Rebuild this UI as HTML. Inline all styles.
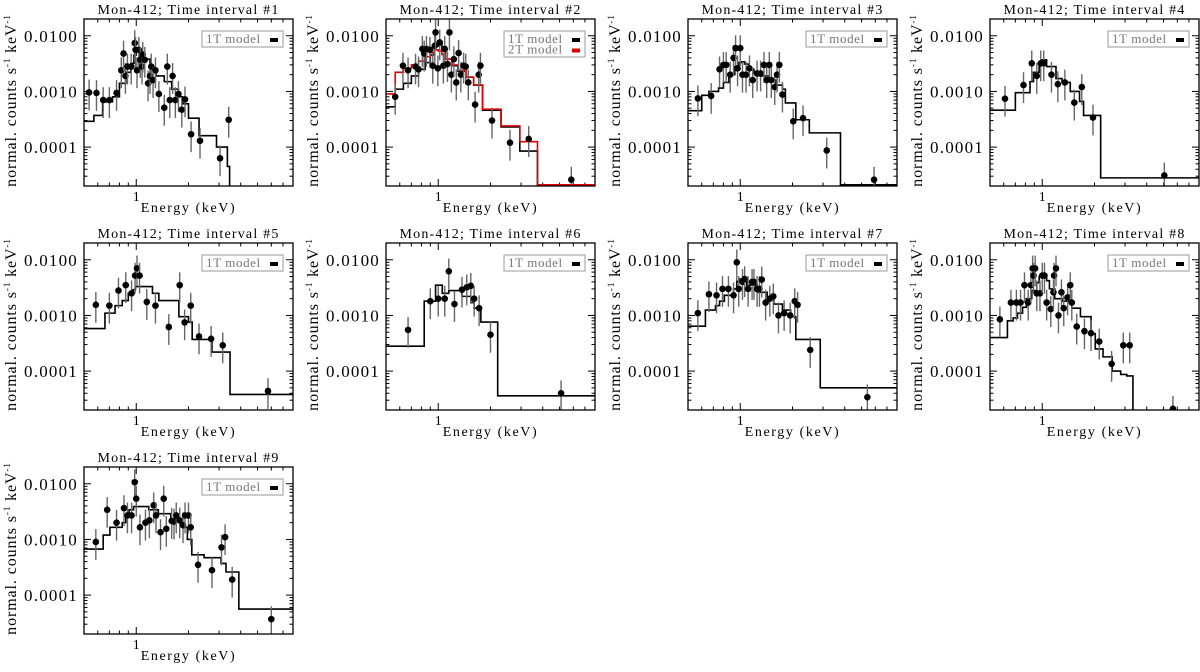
<!DOCTYPE html>
<html><head><meta charset="utf-8">
<style>
html,body{margin:0;padding:0;background:#fff;}
svg{display:block;}
text{font-family:"Liberation Serif",serif;}
</style></head>
<body>
<svg id="fig" width="1200" height="672" viewBox="0 0 1200 672"></svg>
<script>
// ---- data (energy keV, flux counts/s/keV) ----
const p1E=[0.535,0.59,0.645,0.70,0.77,0.82,0.845,0.866,0.89,0.935,0.98,0.99,1.01,1.035,1.055,1.08,1.09,1.12,1.17,1.2,1.22,1.25,1.29,1.35,1.45,1.51,1.56,1.62,1.68,1.75,1.83,1.91,2.07,2.33,3.04,3.41];
const p1F=[9.6e-4,9.4e-4,7e-4,7e-4,9.4e-4,2.4e-3,4.8e-3,1.9e-3,2.8e-3,2.8e-3,7.4e-3,5.6e-3,2.4e-3,5.6e-3,3.7e-3,2.8e-3,4.6e-3,3.7e-3,1.4e-3,1.9e-3,2.8e-3,1.6e-3,2.4e-3,9e-4,5.1e-4,2.8e-3,7e-4,1.9e-3,7e-4,9e-4,4.7e-4,7.2e-4,1.7e-4,1.3e-4,6.3e-5,3.1e-4];
const p1ME=[0.5,0.57,0.64,0.73,0.8,0.87,0.93,0.97,1.0,1.05,1.1,1.2,1.3,1.45,1.6,1.75,1.85,2.0,2.3,2.9,3.35,3.45,8];
const p1MV=[2.9e-4,3.7e-4,6.5e-4,8e-4,1.4e-3,2.2e-3,3.2e-3,4.5e-3,5.2e-3,4.8e-3,3.8e-3,2.6e-3,1.9e-3,1.5e-3,1.1e-3,8e-4,6e-4,3.3e-4,1.6e-4,1e-4,4.5e-5,1e-7];

const p2E=[0.565,0.626,0.67,0.74,0.77,0.81,0.83,0.855,0.895,0.93,0.955,0.965,0.995,1.02,1.07,1.09,1.13,1.16,1.19,1.23,1.27,1.31,1.35,1.4,1.44,1.49,1.63,1.71,1.75,2.04,2.59,3.32,5.84];
const p2F=[8e-4,2.9e-3,2.4e-3,2.8e-3,2.5e-3,5.8e-3,4.8e-3,5.8e-3,5.6e-3,2.9e-3,6.6e-3,1.15e-2,2.6e-3,7.6e-3,2.9e-3,5.8e-3,3.1e-3,1.15e-2,2e-3,3.8e-3,1.45e-3,4.9e-3,2e-3,2.9e-3,2.8e-3,1.45e-3,5.8e-4,2e-3,2.9e-3,3e-4,1.2e-4,1.4e-4,2.6e-5];
const p2ME=[0.5,0.565,0.63,0.7,0.77,0.84,0.9,0.95,1.0,1.05,1.1,1.2,1.3,1.45,1.6,1.8,2.3,2.95,3.73,8];
const p2MV=[5.3e-4,1.1e-3,1.4e-3,1.9e-3,2.5e-3,3.3e-3,4.5e-3,6.5e-3,7.5e-3,5.5e-3,3.8e-3,2.9e-3,2.3e-3,1.8e-3,1.3e-3,4.6e-4,2.3e-4,8.5e-5,2.1e-5];
const p2M2V=[9e-4,2.2e-3,2.6e-3,3e-3,3.5e-3,4.2e-3,5e-3,5.6e-3,5.3e-3,4.6e-3,3.8e-3,3e-3,2.4e-3,1.8e-3,1.3e-3,4.8e-4,2.4e-4,1.25e-4,2.1e-5];

const p3E=[0.57,0.68,0.76,0.8,0.83,0.875,0.915,0.94,0.965,1.0,1.03,1.08,1.13,1.18,1.25,1.31,1.37,1.42,1.47,1.51,1.58,1.63,1.68,1.75,2.02,2.3,3.15,5.9];
const p3F=[7.5e-4,8.3e-4,2.5e-3,3e-3,3e-3,2e-3,4e-3,6e-3,2.6e-3,6e-3,2e-3,2e-3,2.6e-3,1.6e-3,2.1e-3,2.1e-3,3e-3,1.6e-3,3e-3,1.6e-3,1.2e-3,2e-3,3e-3,8.8e-4,2.9e-4,3.3e-4,8.7e-5,2.6e-5];
const p3ME=[0.5,0.6,0.66,0.75,0.8,0.86,0.93,0.98,1.02,1.06,1.12,1.2,1.3,1.45,1.6,1.75,1.82,2.09,2.5,3.78,8];
const p3MV=[4.5e-4,8.5e-4,1e-3,1.15e-3,1.45e-3,2e-3,2.8e-3,3.3e-3,3.4e-3,3.1e-3,2.5e-3,2.1e-3,1.9e-3,1.6e-3,1.3e-3,1.1e-3,6.2e-4,3.1e-4,1.8e-4,2.1e-5];

const p4E=[0.61,0.78,0.87,0.93,0.98,1.02,1.13,1.23,1.35,1.53,1.69,1.96,5.05];
const p4F=[7.4e-4,1.3e-3,3.2e-3,1.9e-3,3.2e-3,3.2e-3,2e-3,1.35e-3,1.45e-3,6.3e-4,1.2e-3,3.4e-4,3.1e-5];
const p4ME=[0.5,0.70,0.85,0.89,0.96,1.0,1.06,1.2,1.3,1.45,1.64,1.73,2.17,8];
const p4MV=[4.6e-4,9.5e-4,1.5e-3,2.2e-3,3.2e-3,3.7e-3,2.8e-3,1.7e-3,1.45e-3,1e-3,6.6e-4,3.7e-4,2.8e-5];

const p5E=[0.585,0.7,0.79,0.87,0.94,0.985,1.01,1.045,1.15,1.29,1.54,1.78,1.9,2.06,2.3,2.7,3.15,5.74];
const p5F=[1.55e-3,1.5e-3,2.8e-3,3.5e-3,2.5e-3,5.2e-3,7e-3,5.2e-3,1.75e-3,1.5e-3,6.2e-4,3.5e-3,7.5e-4,1.5e-3,4.2e-4,3.8e-4,2.9e-4,4.4e-5];
const p5ME=[0.5,0.66,0.755,0.83,0.9,0.96,0.99,1.24,1.35,1.76,2.0,2.1,2.73,3.47,8];
const p5MV=[5.8e-4,1.1e-3,1.5e-3,1.85e-3,2.5e-3,2.9e-3,3.3e-3,2.5e-3,1.85e-3,9.5e-4,7.6e-4,3.7e-4,2.2e-4,3.8e-5];

const p6E=[0.67,0.9,1.0,1.09,1.15,1.24,1.37,1.46,1.54,1.61,1.72,2.0,5.1];
const p6F=[5.5e-4,1.8e-3,2e-3,2e-3,6.2e-3,1.6e-3,2.9e-3,3.2e-3,3.4e-3,2e-3,1.35e-3,4.5e-4,4e-5];
const p6ME=[0.5,0.83,0.965,1.055,1.15,1.37,1.54,1.61,1.76,2.2,8];
const p6MV=[2.8e-4,1.8e-3,3.5e-3,2.5e-3,2.8e-3,2.2e-3,1.7e-3,1.35e-3,7.6e-4,3.6e-5];

const p7E=[0.57,0.66,0.73,0.79,0.855,0.915,0.955,0.98,1.03,1.06,1.11,1.17,1.2,1.25,1.29,1.33,1.4,1.48,1.55,1.66,1.79,1.94,2.06,2.14,2.53,5.4];
const p7F=[1.1e-3,2.4e-3,2.3e-3,3e-3,3e-3,2.3e-3,9e-3,3e-3,4e-3,4.5e-3,3e-3,4e-3,4e-3,3e-3,3e-3,4.4e-3,1.7e-3,2e-3,2.2e-3,1e-3,1.1e-3,1e-3,1.8e-3,1.55e-3,2.4e-4,3.4e-5];
const p7ME=[0.5,0.63,0.72,0.76,0.81,0.915,0.955,1.0,1.09,1.25,1.43,1.56,1.75,1.95,2.09,2.89,8];
const p7MV=[6.4e-4,1.25e-3,1.5e-3,1.8e-3,2.3e-3,3e-3,4.1e-3,4.5e-3,3.5e-3,2.6e-3,2.1e-3,1.6e-3,1.25e-3,9.5e-4,3.7e-4,5e-5];

const p8E=[0.57,0.66,0.71,0.75,0.79,0.83,0.86,0.88,0.89,0.91,0.93,0.97,1.0,1.03,1.06,1.12,1.16,1.17,1.2,1.24,1.29,1.33,1.4,1.45,1.48,1.58,1.75,1.91,2.13,2.51,2.93,3.19,5.66];
const p8F=[8.5e-4,1.7e-3,1.7e-3,1.7e-3,3.5e-3,1.7e-3,3.5e-3,7e-3,5.2e-3,7e-3,2.5e-3,2.5e-3,5.2e-3,5.2e-3,1.7e-3,1.3e-3,2.6e-3,5.2e-3,7e-3,1e-3,2.6e-3,1.35e-3,2.1e-3,3.5e-3,1.7e-3,6.3e-4,5.2e-4,4.8e-4,3.4e-4,1.35e-4,2.9e-4,2.9e-4,2.1e-5];
const p8ME=[0.5,0.63,0.68,0.72,0.77,0.81,0.87,0.93,0.96,1.06,1.1,1.18,1.3,1.48,1.66,1.91,2.02,2.24,2.53,2.83,3.07,3.33,8];
const p8MV=[4e-4,8e-4,9e-4,1.1e-3,1.4e-3,2e-3,2.8e-3,3.9e-3,5e-3,4.2e-3,3e-3,2e-3,1.8e-3,1.35e-3,9.5e-4,4.7e-4,2.5e-4,1.8e-4,1e-4,8.7e-5,8.2e-5,1e-7];

const p9E=[0.585,0.68,0.77,0.85,0.89,0.94,0.98,1.0,1.05,1.13,1.19,1.26,1.3,1.38,1.44,1.49,1.6,1.65,1.7,1.78,1.86,1.91,2.0,2.06,2.27,2.73,3.1,3.25,3.57,6.0];
const p9F=[9e-4,3.4e-3,2e-3,3.65e-3,2.7e-3,2.7e-3,1.07e-2,5.4e-3,1.65e-3,2e-3,2.2e-3,4.1e-3,2.7e-3,1.35e-3,5.4e-3,1.55e-3,2.15e-3,2.1e-3,2.7e-3,2.2e-3,1.8e-3,2.7e-3,2.7e-3,1.65e-3,3.5e-4,2.8e-4,7.2e-4,1.1e-3,1.9e-4,3.7e-5];
const p9ME=[0.5,0.645,0.705,0.83,0.87,0.91,0.965,1.18,1.34,1.58,1.84,1.97,2.09,2.46,3.08,3.29,3.9,8];
const p9MV=[6.7e-4,1.2e-3,1.65e-3,2e-3,2.6e-3,3.4e-3,3.9e-3,3.4e-3,2.9e-3,2.2e-3,1.65e-3,1e-3,5.3e-4,4.7e-4,3.7e-4,2.6e-4,5.6e-5];

const yTickVals=[1e-4,1e-3,1e-2];
const yTickLabels=["0.0001","0.0010","0.0100"];
const xTickVals=[1];
const xTickLabels=["1"];

const panels=[
 {n:1,E:p1E,F:p1F,ME:p1ME,MV:p1MV},
 {n:2,E:p2E,F:p2F,ME:p2ME,MV:p2MV,M2V:p2M2V},
 {n:3,E:p3E,F:p3F,ME:p3ME,MV:p3MV},
 {n:4,E:p4E,F:p4F,ME:p4ME,MV:p4MV},
 {n:5,E:p5E,F:p5F,ME:p5ME,MV:p5MV},
 {n:6,E:p6E,F:p6F,ME:p6ME,MV:p6MV},
 {n:7,E:p7E,F:p7F,ME:p7ME,MV:p7MV},
 {n:8,E:p8E,F:p8F,ME:p8ME,MV:p8MV},
 {n:9,E:p9E,F:p9F,ME:p9ME,MV:p9MV}
];

const NS="http://www.w3.org/2000/svg";
const svg=document.getElementById('fig');
const XMIN=0.5,XMAX=8,YMIN=2e-5,YMAX=2e-2,W=209,H=167;
function mk(tag,attrs,parent){const e=document.createElementNS(NS,tag);for(const k in attrs)e.setAttribute(k,attrs[k]);parent.appendChild(e);return e;}

panels.forEach((p,i)=>{
  const c=i%4,r=Math.floor(i/4);
  const L=84+302*c,T=19+224*r;
  const sx=v=>L+(Math.log10(v)-Math.log10(XMIN))/(Math.log10(XMAX)-Math.log10(XMIN))*W;
  const sy=v=>T+H-(Math.log10(v)-Math.log10(YMIN))/(Math.log10(YMAX)-Math.log10(YMIN))*H;
  const g=mk('g',{},svg);
  
  
  const cp=mk('clipPath',{id:'clip'+p.n},g);
  mk('rect',{x:L,y:T,width:W,height:H},cp);
  const t=mk('text',{x:L+W/2,y:T-5,'text-anchor':'middle','font-size':14,'letter-spacing':1.2},g);
  t.textContent='Mon-412; Time interval #'+p.n;
  
  
  const yl=mk('text',{x:0,y:0,'text-anchor':'middle','font-size':16,'letter-spacing':0.9,transform:`translate(${L-68},${T+H/2-2}) rotate(-90)`},g);
  yl.innerHTML='normal. counts s<tspan font-size="9" dy="-6">-1</tspan><tspan dy="6"> keV</tspan><tspan font-size="9" dy="-6">-1</tspan>';
  
  
  const xl=mk('text',{x:L+W/2,y:T+H+26,'text-anchor':'middle','font-size':14,'letter-spacing':1.6},g);
  xl.textContent='Energy (keV)';
  
  
  const tk=mk('g',{stroke:'#000','stroke-width':1},g);
  
  
  for(let d=-5;d<=-2;d++){for(let m=1;m<=9;m++){const v=m*Math.pow(10,d);if(v<YMIN||v>YMAX)continue;const y=sy(v);const len=m===1?7:3.5;
    mk('line',{x1:L,x2:L+len,y1:y,y2:y},tk);mk('line',{x1:L+W-len,x2:L+W,y1:y,y2:y},tk);}}
  for(let d=-1;d<=0;d++){for(let m=1;m<=9;m++){const v=m*Math.pow(10,d);if(v<XMIN||v>XMAX)continue;const x=sx(v);const len=v===1?7:3.5;
    mk('line',{x1:x,x2:x,y1:T+H,y2:T+H-len},tk);mk('line',{x1:x,x2:x,y1:T,y2:T+len},tk);}}
  yTickVals.forEach((v,k)=>{const e=mk('text',{x:L-6,y:sy(v)+6,'text-anchor':'end','font-size':17,'letter-spacing':1.2},g);e.textContent=yTickLabels[k];
    
    });
  xTickVals.forEach((v,k)=>{const e=mk('text',{x:sx(v),y:T+H+15,'text-anchor':'middle','font-size':14},g);e.textContent=xTickLabels[k];
    
    });
  const pg=mk('g',{'clip-path':`url(#clip${p.n})`},g);
  function step(E,V,color,name){let d='';for(let k=0;k<V.length;k++){const x0=sx(E[k]),x1=sx(E[k+1]),y=sy(V[k]);d+=(k===0?'M':'L')+x0+','+y+'L'+x1+','+y;}
    const e=mk('path',{d:d,fill:'none',stroke:color,'stroke-width':1.6},pg);
    
    }
  step(p.ME,p.MV,'#000','model-1t');
  if(p.M2V)step(p.ME,p.M2V,'#e00000','model-2t');
  p.E.forEach((e,k)=>{const x=sx(e),y=sy(p.F[k]);
    const eb=mk('line',{x1:x,x2:x,y1:sy(p.F[k]*1.7),y2:sy(p.F[k]/2.1),stroke:'#666','stroke-width':1.4},pg);
    
    
    const dot=mk('circle',{cx:x,cy:y,r:3.3,fill:'#000'},pg);
    
    });
  const fr=mk('rect',{x:L,y:T,width:W,height:H,fill:'none',stroke:'#000','stroke-width':1.3},g);
  
  
  const n=p.M2V?2:1;const lw=81,lh=n===1?16:26;const lx=L+W-10-lw,ly=T+12;
  const lg=mk('g',{},g);
  
  
  mk('rect',{x:lx,y:ly,width:lw,height:lh,fill:'#fff',stroke:'#999','stroke-width':1},lg);
  const labs=['1T model','2T model'],cols=['#000','#e00000'];
  for(let k=0;k<n;k++){const yy=ly+12+k*10.5;
    const tt=mk('text',{x:lx+4,y:yy,'font-size':13,'letter-spacing':0.6,fill:'#777'},lg);tt.textContent=labs[k];
    
    
    mk('rect',{x:lx+lw-13,y:yy-5,width:8,height:4,fill:cols[k]},lg);}
});
</script>
</body></html>
